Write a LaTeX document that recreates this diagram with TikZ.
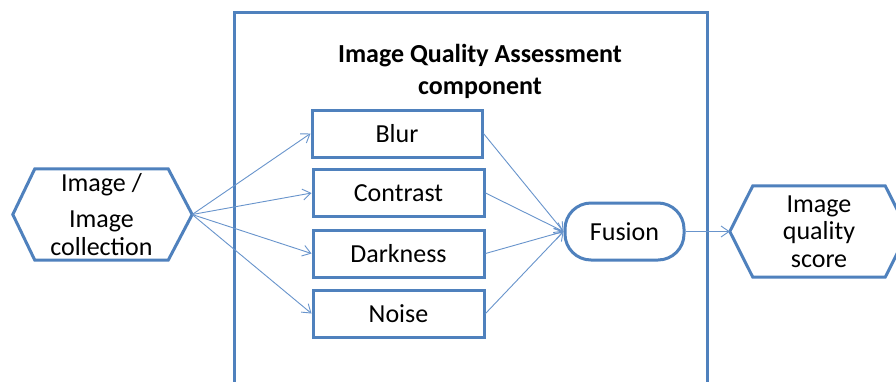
\documentclass[tikz,border=0pt]{standalone}
\usepackage{fontspec}
\setmainfont{Carlito}
\usetikzlibrary{arrows.meta}
\definecolor{boxblue}{RGB}{79,129,189}
\definecolor{arrblue}{RGB}{104,148,204}
\begin{document}
\begin{tikzpicture}[x=1pt,y=-1pt,
  boxline/.style={draw=boxblue,line width=3pt,line join=miter},
  stepbox/.style={boxline,rectangle,minimum width=170pt,minimum height=47pt,inner sep=0pt,font=\fontsize{26}{30}\selectfont},
  hexbody/.style={draw=none,inner sep=0pt,align=center,font=\fontsize{26}{27.5}\selectfont},
  conn/.style={draw=arrblue,line width=0.9pt,-{Straight Barb[length=8pt,width=11pt]}}]
\useasboundingbox (0,0) rectangle (896,381);
\clip (0,0) rectangle (896,381);
\fill[white] (0,0) rectangle (896,381);
% outer component frame
\draw[boxline] (234,390) -- (234,12) -- (707,12) -- (707,390);
\node[font=\fontsize{26}{32}\selectfont\bfseries,align=center] (title) at (480,71) {Image Quality Assessment\\component};
% input hexagon
\node[hexbody,minimum width=133pt,minimum height=91pt] (src) at (101.5,214.5) {Image /\\[9pt]Image\\collection};
\draw[boxline] ([xshift=-22pt]src.west) -- (src.north west) -- (src.north east) -- ([xshift=24pt]src.east) -- (src.south east) -- (src.south west) -- cycle;
\coordinate (srcR) at ([xshift=24pt]src.east);
% feature boxes
\node[stepbox] (blur) at (397,133.5) {Blur};
\node[stepbox,minimum width=171pt] (contrast) at (398.5,193) {Contrast};
\node[stepbox,minimum width=171pt] (dark) at (398.5,253.5) {Darkness};
\node[stepbox,minimum width=171pt] (noise) at (398.5,313.5) {Noise};
% fusion
\node[boxline,rectangle,rounded corners=26pt,minimum width=119pt,minimum height=57pt,inner sep=0pt,font=\fontsize{26}{30}\selectfont] (fusion) at (624.5,231.5) {Fusion};
% output hexagon
\node[hexbody,minimum width=132pt,minimum height=91pt] (out) at (819,231.5) {Image\\quality\\score};
\draw[boxline] ([xshift=-23pt]out.west) -- (out.north west) -- (out.north east) -- ([xshift=23pt]out.east) -- (out.south east) -- (out.south west) -- cycle;
\coordinate (outL) at ([xshift=-23pt]out.west);
% connectors
\draw[conn] (srcR) -- (blur.west);
\draw[conn] (srcR) -- (contrast.west);
\draw[conn] (srcR) -- (dark.west);
\draw[conn] (srcR) -- (noise.west);
\draw[conn] (blur.east) -- (fusion.west);
\draw[conn] (contrast.east) -- (fusion.west);
\draw[conn] (dark.east) -- (fusion.west);
\draw[conn] (noise.east) -- (fusion.west);
\draw[conn] (fusion.east) -- (outL);
\end{tikzpicture}
\end{document}
